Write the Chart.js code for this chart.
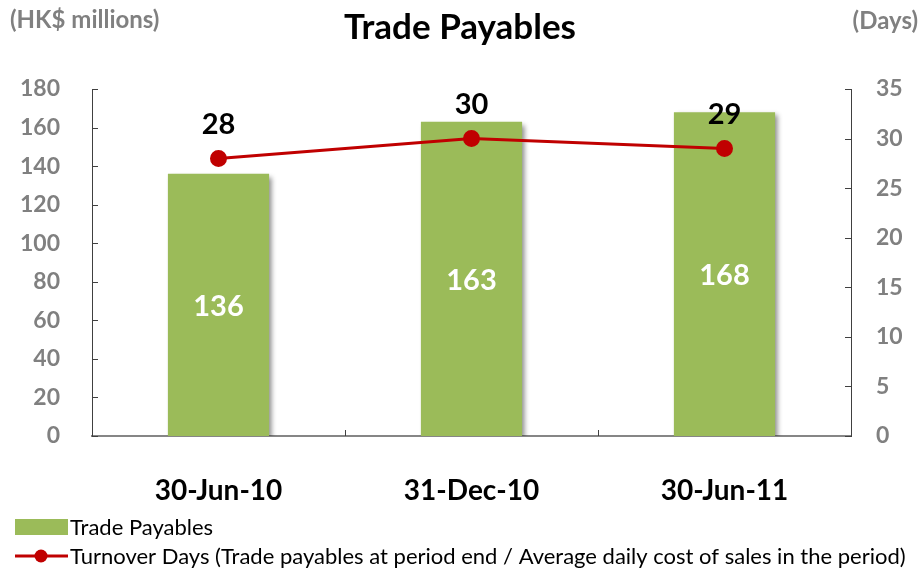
<!DOCTYPE html>
<html><head><meta charset="utf-8">
<script src="https://cdn.jsdelivr.net/npm/chart.js@4"></script>
<style>html,body{margin:0;padding:0;background:#fff;}#wrap{width:924px;height:571px;position:relative;}</style>
</head><body><div id="wrap"><canvas id="c" width="924" height="571"></canvas></div>
<script>
const categories = ['30-Jun-10', '31-Dec-10', '30-Jun-11'];
const tradePayables = [136, 163, 168];
const turnoverDays = [28, 30, 29];
const leftTicks = [0, 20, 40, 60, 80, 100, 120, 140, 160, 180];
const rightTicks = [0, 5, 10, 15, 20, 25, 30, 35];
const titleText = 'Trade Payables';
const leftUnit = '(HK$ millions)';
const rightUnit = '(Days)';
const legendLabels = ['Trade Payables', 'Turnover Days (Trade payables at period end / Average daily cost of sales in the period)'];

const FONT = 'Lato, "Open Sans", sans-serif';
const GREEN = '#9BBB59';
const RED = '#C00000';
const GRAY = '#808080';

const decor = {
  id: 'decor',
  beforeDatasetDraw(chart, args) {
    if (args.index === 0) {
      const ctx = chart.ctx;
      ctx.save();
      ctx.shadowColor = 'rgba(0,0,0,0.45)';
      ctx.shadowBlur = 5;
      ctx.shadowOffsetX = 3;
      ctx.shadowOffsetY = 3;
    }
  },
  afterDatasetDraw(chart, args) {
    if (args.index === 0) chart.ctx.restore();
  },
  afterDraw(chart) {
    const ctx = chart.ctx;
    const ca = chart.chartArea;
    const x = chart.scales.x, y = chart.scales.y, y1 = chart.scales.y1;
    ctx.save();
    // inward tick marks
    ctx.strokeStyle = '#404040';
    ctx.lineWidth = 1;
    ctx.beginPath();
    y.ticks.forEach((t, i) => { const py = Math.round(y.getPixelForTick(i)) + 0.5; ctx.moveTo(ca.left, py); ctx.lineTo(ca.left + 6, py); });
    y1.ticks.forEach((t, i) => { const py = Math.round(y1.getPixelForTick(i)) + 0.5; ctx.moveTo(ca.right, py); ctx.lineTo(ca.right - 6, py); });
    for (let i = 1; i < categories.length; i++) {
      const px = Math.round((x.getPixelForValue(i - 1) + x.getPixelForValue(i)) / 2) + 0.5;
      ctx.moveTo(px, ca.bottom); ctx.lineTo(px, ca.bottom - 6);
    }
    ctx.stroke();
    // axis tick labels
    ctx.fillStyle = GRAY;
    ctx.font = 'bold 23px ' + FONT;
    ctx.textBaseline = 'middle';
    ctx.textAlign = 'right';
    y.ticks.forEach((t, i) => ctx.fillText(t.label, 60, y.getPixelForTick(i)));
    ctx.textAlign = 'left';
    y1.ticks.forEach((t, i) => ctx.fillText(t.label, 876, y1.getPixelForTick(i)));
    // units
    ctx.font = 'bold 24px ' + FONT;
    ctx.textAlign = 'left';
    ctx.fillText(leftUnit, 10, 20);
    ctx.textAlign = 'right';
    ctx.fillText(rightUnit, 918, 21);
    // title
    ctx.fillStyle = '#000';
    ctx.font = 'bold 35px ' + FONT;
    ctx.textAlign = 'center';
    ctx.fillText(titleText, 460, 28);
    // bar labels
    const m0 = chart.getDatasetMeta(0);
    ctx.font = 'bold 29px ' + FONT;
    ctx.fillStyle = '#fff';
    m0.data.forEach((b, i) => {
      ctx.fillText(String(tradePayables[i]), b.x, (b.y + b.base) / 2 + 2);
    });
    // line labels
    const m1 = chart.getDatasetMeta(1);
    ctx.fillStyle = '#000';
    m1.data.forEach((p, i) => {
      ctx.fillText(String(turnoverDays[i]), p.x, p.y - 34);
    });
    // legend
    ctx.fillStyle = GREEN;
    ctx.fillRect(15, 519, 53, 16);
    ctx.strokeStyle = RED;
    ctx.lineWidth = 3;
    ctx.beginPath(); ctx.moveTo(15, 556); ctx.lineTo(68, 556); ctx.stroke();
    ctx.fillStyle = RED;
    ctx.beginPath(); ctx.arc(41, 556, 6.5, 0, Math.PI * 2); ctx.fill();
    ctx.fillStyle = '#000';
    ctx.font = '22px ' + FONT;
    ctx.textAlign = 'left';
    ctx.fillText(legendLabels[0], 70, 528);
    ctx.fillText(legendLabels[1], 70, 557);
    ctx.restore();
  }
};

new Chart(document.getElementById('c'), {
  data: {
    labels: categories,
    datasets: [
      { type: 'bar', label: legendLabels[0], data: tradePayables, backgroundColor: GREEN, yAxisID: 'y', barPercentage: 0.8, categoryPercentage: 0.5, order: 2 },
      { type: 'line', label: legendLabels[1], data: turnoverDays, borderColor: RED, backgroundColor: RED, borderWidth: 3, pointRadius: 7, pointHoverRadius: 7, pointBackgroundColor: RED, pointBorderColor: RED, yAxisID: 'y1', tension: 0, order: 1 }
    ]
  },
  options: {
    responsive: false,
    animation: false,
    events: [],
    layout: { padding: { top: 89, left: 0, right: 0, bottom: 0 } },
    plugins: { legend: { display: false }, title: { display: false }, tooltip: { enabled: false } },
    scales: {
      x: {
        grid: { display: false, drawTicks: false },
        border: { display: true, color: '#868686', width: 2 },
        ticks: { color: '#000', font: { family: FONT, size: 28, weight: 'bold' }, padding: 38, maxRotation: 0 },
        afterFit(s) { s.height = 135; }
      },
      y: {
        position: 'left', min: 0, max: 180,
        afterBuildTicks(s) { s.ticks = leftTicks.map(v => ({ value: v })); },
        grid: { display: false, drawTicks: false },
        border: { display: true, color: '#404040', width: 1 },
        ticks: { display: false },
        afterFit(s) { s.width = 92; }
      },
      y1: {
        position: 'right', min: 0, max: 35,
        afterBuildTicks(s) { s.ticks = rightTicks.map(v => ({ value: v })); },
        grid: { display: false, drawTicks: false },
        border: { display: true, color: '#404040', width: 1 },
        ticks: { display: false },
        afterFit(s) { s.width = 73; }
      }
    }
  },
  plugins: [decor]
});
</script>
</body></html>
